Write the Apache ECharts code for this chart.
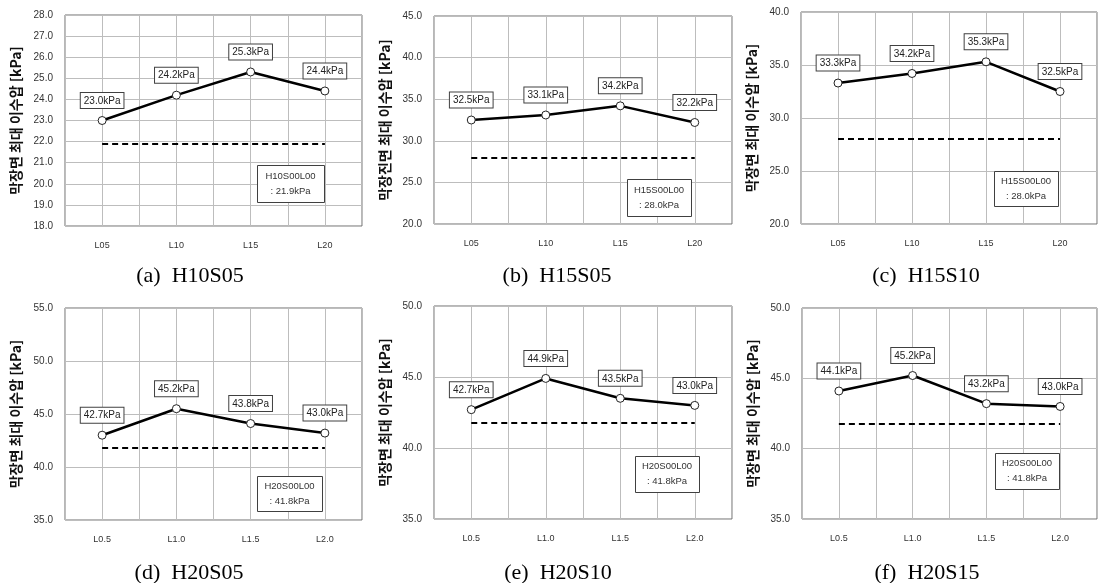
<!DOCTYPE html>
<html>
<head>
<meta charset="utf-8">
<script src="https://cdn.jsdelivr.net/npm/echarts@6/dist/echarts.min.js"></script>
<style>
html,body{margin:0;padding:0;background:#fff;}
#chart{width:1101px;height:583px;}
</style>
</head>
<body>
<div id="chart"></div>
<script>
// ---- data ----
var catsL = ['L05', 'L10', 'L15', 'L20'];
var catsLdot = ['L0.5', 'L1.0', 'L1.5', 'L2.0'];

var valuesA = [23.0, 24.2, 25.3, 24.4];
var labelsA = ['23.0kPa', '24.2kPa', '25.3kPa', '24.4kPa'];
var valuesB = [32.5, 33.1, 34.2, 32.2];
var labelsB = ['32.5kPa', '33.1kPa', '34.2kPa', '32.2kPa'];
var valuesC = [33.3, 34.2, 35.3, 32.5];
var labelsC = ['33.3kPa', '34.2kPa', '35.3kPa', '32.5kPa'];
var valuesD = [43.0, 45.5, 44.1, 43.2];
var labelsD = ['42.7kPa', '45.2kPa', '43.8kPa', '43.0kPa'];
var valuesE = [42.7, 44.9, 43.5, 43.0];
var labelsE = ['42.7kPa', '44.9kPa', '43.5kPa', '43.0kPa'];
var valuesF = [44.1, 45.2, 43.2, 43.0];
var labelsF = ['44.1kPa', '45.2kPa', '43.2kPa', '43.0kPa'];

var baseValues = [21.9, 28.0, 28.0, 41.8, 41.8, 41.8];
var baseNames = ['H10S00L00', 'H15S00L00', 'H15S00L00', 'H20S00L00', 'H20S00L00', 'H20S00L00'];
var baseTexts = [': 21.9kPa', ': 28.0kPa', ': 28.0kPa', ': 41.8kPa', ': 41.8kPa', ': 41.8kPa'];

var yMins = [18, 20, 20, 35, 35, 35];
var yMaxs = [28, 45, 40, 55, 50, 50];
var yIntervals = [1, 5, 5, 5, 5, 5];

var captions = ['(a)  H10S05', '(b)  H15S05', '(c)  H15S10', '(d)  H20S05', '(e)  H20S10', '(f)  H20S15'];
var yNames = ['막장면 최대 이수압 [kPa]', '막장진면 최대 이수압 [kPa]', '막장면 최대 이수압 [kPa]',
              '막장면 최대 이수압 [kPa]', '막장면 최대 이수압 [kPa]', '막장면 최대 이수압 [kPa]'];

// ---- layout ----
var panels = [
  {cats: catsL, vals: valuesA, labs: labelsA, grid: {left: 65, top: 15, width: 297, height: 211}, box: [257, 165, 67, 37], cap: [190, 276]},
  {cats: catsL, vals: valuesB, labs: labelsB, grid: {left: 434, top: 16, width: 298, height: 208}, box: [627, 179, 64, 37], cap: [557, 276]},
  {cats: catsL, vals: valuesC, labs: labelsC, grid: {left: 801, top: 12, width: 296, height: 212}, box: [994, 171, 64, 35], cap: [926, 276]},
  {cats: catsLdot, vals: valuesD, labs: labelsD, grid: {left: 65, top: 308, width: 297, height: 212}, box: [257, 476, 65, 35], cap: [189, 573]},
  {cats: catsLdot, vals: valuesE, labs: labelsE, grid: {left: 434, top: 306, width: 298, height: 213}, box: [635, 456, 64, 36], cap: [558, 573]},
  {cats: catsLdot, vals: valuesF, labs: labelsF, grid: {left: 802, top: 308, width: 295, height: 211}, box: [995, 453, 64, 36], cap: [927, 573]}
];

var grids = [], xAxes = [], yAxes = [], series = [], graphics = [];
var tickFont = 'Liberation Sans';

panels.forEach(function (p, i) {
  grids.push(Object.assign({show: true, backgroundColor: '#fff', borderColor: '#6e6e6e', borderWidth: 1}, p.grid));
  xAxes.push({
    type: 'category', gridIndex: i, data: p.cats, boundaryGap: true,
    axisLine: {show: false}, axisTick: {show: false},
    axisLabel: {fontSize: 9, color: '#333', margin: 15, fontFamily: tickFont},
    splitLine: {show: false}
  });
  xAxes.push({
    type: 'value', gridIndex: i, min: -0.5, max: 3.5, interval: 0.5,
    axisLine: {show: false}, axisTick: {show: false}, axisLabel: {show: false},
    splitLine: {show: true, lineStyle: {color: '#bdbdbd', width: 1}}
  });
  yAxes.push({
    type: 'value', gridIndex: i, min: yMins[i], max: yMaxs[i], interval: yIntervals[i],
    axisLine: {show: false}, axisTick: {show: false},
    axisLabel: {fontSize: 10, color: '#333', margin: 12, fontFamily: tickFont,
      formatter: function (v) { return v.toFixed(1); }},
    splitLine: {show: true, lineStyle: {color: '#bdbdbd', width: 1}},
    name: yNames[i], nameLocation: 'middle', nameRotate: 90, nameGap: 42,
    nameTextStyle: {fontSize: 14, fontWeight: 'bold', color: '#111', fontFamily: 'Noto Sans CJK KR'}
  });
  var labs = p.labs;
  series.push({
    type: 'line', xAxisIndex: 2 * i, yAxisIndex: i, data: p.vals,
    symbol: 'circle', symbolSize: 8,
    lineStyle: {color: '#000', width: 2.5},
    itemStyle: {color: '#fff', borderColor: '#222', borderWidth: 1},
    z: 5,
    label: {
      show: true, position: 'top', distance: 8,
      formatter: function (prm) { return labs[prm.dataIndex]; },
      backgroundColor: '#fff', borderColor: '#404040', borderWidth: 1,
      padding: [2, 3, 1, 3], fontSize: 10, lineHeight: 12, color: '#222', fontFamily: tickFont
    },
    markLine: {
      silent: true, symbol: 'none', animation: false,
      label: {show: false},
      lineStyle: {color: '#000', width: 2, type: [6, 4]},
      data: [[{xAxis: 0, yAxis: baseValues[i]}, {xAxis: 3, yAxis: baseValues[i]}]]
    },
    animation: false
  });
  var b = p.box;
  graphics.push({
    type: 'rect', shape: {x: b[0] + 0.5, y: b[1] + 0.5, width: b[2], height: b[3]},
    style: {fill: '#fff', stroke: '#404040', lineWidth: 1}, z: 10
  });
  graphics.push({
    type: 'text', x: b[0] + b[2] / 2, y: b[1] + b[3] / 2, z: 11,
    style: {text: baseNames[i] + '\n' + baseTexts[i], textAlign: 'center', textVerticalAlign: 'middle',
      fontSize: 9.5, lineHeight: 15, fill: '#333', fontFamily: tickFont}
  });
  graphics.push({
    type: 'text', x: p.cap[0], y: p.cap[1], z: 11,
    style: {text: captions[i], textAlign: 'center', textVerticalAlign: 'middle',
      fontSize: 22, fill: '#000', fontFamily: 'Liberation Serif'}
  });
});

var chart = echarts.init(document.getElementById('chart'), null, {renderer: 'canvas'});
chart.setOption({
  animation: false,
  backgroundColor: '#fff',
  grid: grids,
  xAxis: xAxes,
  yAxis: yAxes,
  series: series,
  graphic: graphics
});
</script>
</body>
</html>
